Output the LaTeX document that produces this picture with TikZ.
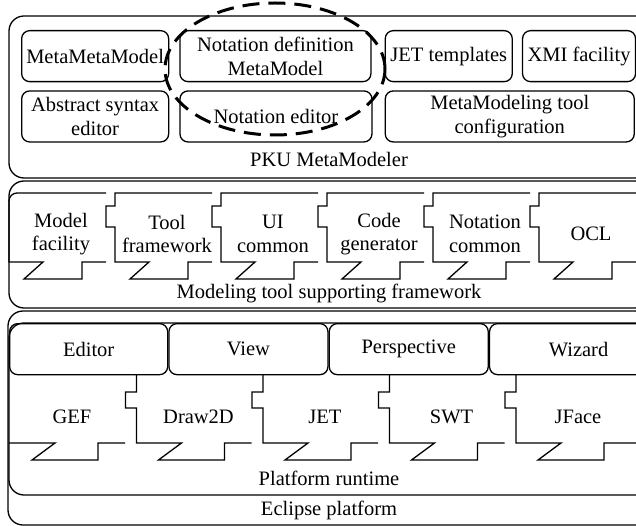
\documentclass[tikz,border=0pt]{standalone}
\usepackage{fontspec}
\setmainfont{Liberation Serif}
\usetikzlibrary{positioning}

\begin{document}
\begin{tikzpicture}[
    x=1pt, y=-1pt,
    font=\fontsize{20.5}{23.5}\selectfont,
    layer/.style={draw, line width=1.3pt, rounded corners=15pt},
    mbox/.style={draw, line width=1.3pt, rounded corners=8pt, minimum height=51pt, inner sep=0pt, align=center},
    piece/.style={draw, line width=1.3pt},
    lbl/.style={align=center, inner sep=0pt}
]
\useasboundingbox (0,0) rectangle (636,526);

% PKU MetaModeler
\draw[layer] (9,16) rectangle (650,178);
\node[mbox, minimum width=147pt, anchor=north west] (mmm) at (21,30) {MetaMetaModel};
\node[mbox, minimum width=191pt, right=10pt of mmm] (notdef) {Notation definition\\MetaModel};
\node[mbox, minimum width=127pt, right=13pt of notdef] (jet) {JET templates};
\node[mbox, minimum width=113pt, right=9pt of jet] (xmi) {XMI facility};
\node[mbox, minimum width=147pt, below=8pt of mmm] (abs) {Abstract syntax\\editor};
\node[mbox, minimum width=192pt, below=8pt of notdef.south west, anchor=north west] (notedit) {Notation editor};
\node[mbox, minimum width=249pt, below=8pt of jet.south west, anchor=north west] (mmtool) {MetaModeling tool\\configuration};
\node[lbl] (pku) at (329,159) {PKU MetaModeler};
\draw[line width=3pt, dash pattern=on 17pt off 9pt] (275,69) ellipse [x radius=110pt, y radius=66pt];

% Modeling tool supporting framework
\draw[layer] (9,181) rectangle (650,308);
\foreach \lab [count=\i from 0] in {Model\\facility, Tool\\framework, UI\\common, Code\\generator, Notation\\common, OCL} {
  \pgfmathsetmacro\tileL{9+106*\i}
  \pgfmathsetmacro\tileR{\i==5 ? 650 : \tileL+97}
  \ifnum\i=0
    \draw[piece] (\tileR,193) -- (\tileL+8,193) [rounded corners=8pt] -- (\tileL,193) [sharp corners] -- (\tileL,262) -- ++(34,0) -- ++(-19,17) -- ++(58,0) -- ++(0,-17) -- (\tileR,262);
  \else
    \draw[piece] (\tileR,193) -- (\tileL,193) -- (\tileL,206) -- ++(-9,0) -- ++(0,21) -- ++(9,0) -- (\tileL,262) -- ++(34,0) -- ++(-19,17) -- ++(58,0) -- ++(0,-17) -- (\tileR,262);
  \fi
  \node[lbl] (fw\i) at (\tileL+52,234) {\lab};
}
\node[lbl] (mtsf) at (329,293) {Modeling tool supporting framework};

% Eclipse platform
\draw[layer] (8,311) rectangle (650,525);
\draw[layer] (9,323) rectangle (650,495);
\node[mbox, minimum width=158pt, anchor=north west] (editor) at (9,323) {Editor};
\node[mbox, minimum width=159pt, right=0pt of editor] (view) {View};
\node[mbox, minimum width=159pt, right=0pt of view] (persp) {Perspective};
\node[mbox, minimum width=178pt, right=0pt of persp] (wizard) {Wizard};
\foreach \lab [count=\i from 0] in {GEF, Draw2D, JET, SWT, JFace} {
  \pgfmathsetmacro\tileL{10+126.5*\i}
  \pgfmathsetmacro\tileR{\i==4 ? 650 : \tileL+115}
  \ifnum\i=0
    \draw[piece] (9,443) -- (\tileL+45,443) -- ++(-23,17) -- ++(66,0) -- ++(0,-17) -- (\tileR,443);
  \else
    \draw[piece] (\tileL,374) -- (\tileL,392) -- ++(-11,0) -- ++(0,16) -- ++(11,0) -- (\tileL,443) -- ++(45,0) -- ++(-23,17) -- ++(66,0) -- ++(0,-17) -- (\tileR,443);
  \fi
  \node[lbl] (rt\i) at (\tileL+62,417) {\lab};
}
\node[lbl] (runtime) at (329,478) {Platform runtime};
\node[lbl] (eclipse) at (329,510) {Eclipse platform};
\end{tikzpicture}
\end{document}
